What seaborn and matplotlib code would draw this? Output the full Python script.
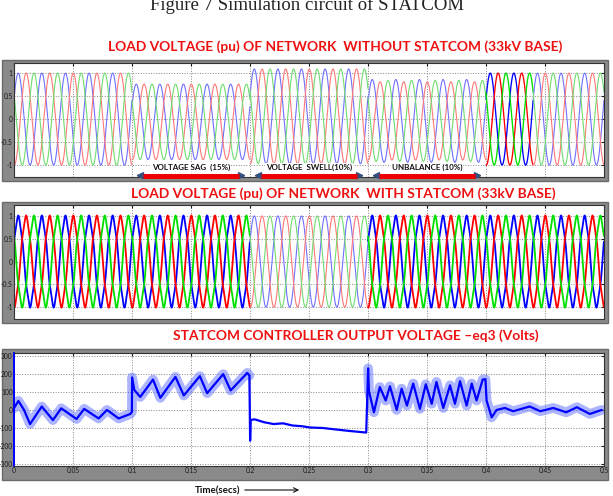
import matplotlib as mpl

mpl.use('Agg')
import numpy as np
import pandas as pd
import matplotlib.pyplot as plt
from matplotlib.patches import Rectangle
import seaborn as sns

# ---- data ----
freq = 50  # Hz
phases = ['a', 'b', 'c']
phase_deg = [25, -95, 145]
phase_bold = {'a': '#0000ff', 'b': '#ff0000', 'c': '#00e000'}
phase_pale = {'a': '#7070ff', 'b': '#ff7878', 'c': '#70dd70'}

# network without STATCOM: segment edges (s), peak of each phase (pu), dc shift
edges_without = [0.0, 0.1, 0.2, 0.3, 0.4, 0.44, 0.5]
amp_without = [[1.0, 1.0, 1.0], [0.82, 0.82, 0.82], [1.03, 1.03, 1.03],
               [0.90, 0.85, 0.88], [1.0, 1.0, 1.0], [1.0, 1.0, 1.0]]
shift_without = [0.0, -0.06, 0.06, -0.04, 0.0, 0.0]
bold_without = [False, False, False, False, True, False]

# network with STATCOM
edges_with = [0.0, 0.1, 0.2, 0.3, 0.4, 0.5]
amp_with = [[0.96, 0.96, 0.96], [0.96, 0.96, 0.96], [1.0, 1.0, 1.0],
            [0.96, 0.96, 0.96], [0.96, 0.96, 0.96]]
ripple_with = [0.05, 0.05, 0.0, 0.05, 0.05]
bold_with = [True, True, False, True, True]

# STATCOM controller output voltage eq3 (V)
ctrl_t = [0.0, 0.0037, 0.0085, 0.0136, 0.0235, 0.033, 0.040, 0.053, 0.0595,
          0.0717, 0.0788, 0.0887, 0.0986, 0.0999,
          0.1001, 0.102, 0.107, 0.1178, 0.124, 0.1368, 0.1439, 0.1575,
          0.1637, 0.1773, 0.1836, 0.1977, 0.1995,
          0.2001, 0.2006, 0.204, 0.212, 0.22, 0.228, 0.236, 0.244, 0.251,
          0.262, 0.27, 0.284, 0.2985,
          0.3001, 0.3008, 0.305, 0.310, 0.315, 0.3186, 0.3243, 0.3285, 0.333,
          0.3383, 0.344, 0.349, 0.354, 0.358, 0.3638, 0.3695, 0.3737, 0.378,
          0.3836, 0.3879, 0.392, 0.3972, 0.3995,
          0.4005, 0.4048, 0.409, 0.416, 0.423, 0.437, 0.446, 0.457, 0.468,
          0.477, 0.488, 0.498]
ctrl_v = [10, 50, 0, -78, 19, -56, 9, -50, 6,
          -47, 0, -47, -22, -10,
          180, 110, 72, 168, 67, 183, 80, 187,
          93, 198, 108, 205, 190,
          -170, -55, -52, -68, -78, -74, -86, -90, -97,
          -100, -106, -116, -125,
          230, 105, -13, 127, 52, 131, 0, 118, 24,
          146, 6, 142, 34, 155, 11, 136, 34, 159,
          24, 146, 52, 168, 170,
          52, -41, 0, 11, -7, 19, -7, 11, -13,
          15, -22, 0]

events = ['VOLTAGE SAG  (15%)', 'VOLTAGE  SWELL(10%)', 'UNBALANCE (10%)']
event_span = [(0.1, 0.2), (0.2, 0.3), (0.3, 0.4)]

titles = ['LOAD VOLTAGE (pu) OF NETWORK  WITHOUT STATCOM (33kV BASE)',
          'LOAD VOLTAGE (pu) OF NETWORK  WITH STATCOM (33kV BASE)',
          'STATCOM CONTROLLER OUTPUT VOLTAGE \u2013eq3 (Volts)']

W, H = 613, 496


def wave_frame(edges, amps, shifts, ripples):
    rows = []
    for k in range(len(edges) - 1):
        t = np.arange(edges[k], edges[k + 1], 5e-5)
        for p, ph, a in zip(phases, phase_deg, amps[k]):
            w = 2 * np.pi * freq * t + np.radians(ph)
            v = a * np.sin(w) + shifts[k] + ripples[k] * np.sin(5 * w)
            rows.append(pd.DataFrame({'t': t, 'v': v, 'phase': p, 'seg': k}))
    return pd.concat(rows, ignore_index=True)


def ax_box(x0, y0, x1, y1):
    return [x0 / W, 1 - y1 / H, (x1 - x0) / W, (y1 - y0) / H]


def gray_frame(fig, x0, y0, x1, y1):
    fig.patches.append(Rectangle((x0 / W, 1 - y1 / H), (x1 - x0) / W,
                                 (y1 - y0) / H, transform=fig.transFigure,
                                 facecolor='#8a8a8a', edgecolor='#6a6a6a',
                                 lw=1, zorder=-5))


def style_axes(ax, ylim, yticks, ylabels, xlabels):
    ax.set_xlim(0, 0.5)
    ax.set_ylim(*ylim)
    ax.set_xticks(np.arange(0, 0.501, 0.05))
    ax.set_yticks(yticks)
    ax.set_yticklabels(ylabels)
    if xlabels:
        ax.set_xticklabels(['0', '0.05', '0.1', '0.15', '0.2', '0.25', '0.3',
                            '0.35', '0.4', '0.45', '0.5'])
    else:
        ax.set_xticklabels([])
    ax.tick_params(direction='in', length=2, labelsize=4.8, pad=1,
                   top=True, right=True, colors='#1a1a1a')
    ax.grid(True, ls=':', color='#888888', lw=0.7)
    ax.set_xlabel('')
    ax.set_ylabel('')
    ax.set_facecolor('white')
    ax.set_zorder(2)
    for s in ax.spines.values():
        s.set_color('#333333')
        s.set_linewidth(0.8)


sns.set_style('white')
plt.rcParams['font.family'] = ['Lato', 'DejaVu Sans']

fig = plt.figure(figsize=(W / 100, H / 100), dpi=100)
fig.patch.set_facecolor('white')

fig.text(0.5, 1 - 10 / H, 'Figure 7 Simulation circuit of STATCOM',
         ha='center', va='baseline', fontsize=13.5,
         family=['Liberation Serif', 'DejaVu Serif'], color='#222222')

gray_frame(fig, 2, 60, 608, 181)
gray_frame(fig, 2, 202, 608, 323)
gray_frame(fig, 2, 349, 608, 480)

ax1 = fig.add_axes(ax_box(14, 63, 604, 177))
ax2 = fig.add_axes(ax_box(14, 205, 604, 319))
ax3 = fig.add_axes(ax_box(14, 353, 604, 466))

ttl = dict(ha='center', va='center', fontsize=9.9, fontweight='bold',
           color='#ee1111')
fig.text(335 / W, 1 - 47 / H, titles[0], **ttl)
fig.text(343 / W, 1 - 194 / H, titles[1], **ttl)
fig.text(356 / W, 1 - 336 / H, titles[2], **ttl)

# panel 1 and 2 : three phase voltages
df1 = wave_frame(edges_without, amp_without, shift_without,
                 [0.0] * len(shift_without))
df2 = wave_frame(edges_with, amp_with, [0.0] * len(ripple_with), ripple_with)

for ax, df, bold, bw in [(ax1, df1, bold_without, 0.95),
                         (ax2, df2, bold_with, 1.3)]:
    for k, b in enumerate(bold):
        sns.lineplot(data=df[df['seg'] == k], x='t', y='v', hue='phase',
                     palette=phase_bold if b else phase_pale,
                     lw=bw if b else 0.8, estimator=None, sort=False,
                     legend=False, ax=ax)

yl = ['1', '0.5', '0', '-0.5', '-1']
style_axes(ax1, (-1.26, 1.22), [1, 0.5, 0, -0.5, -1], yl, False)
style_axes(ax2, (-1.26, 1.24), [1, 0.5, 0, -0.5, -1], yl, False)

# event arrows on panel 1
for name, (a, b) in zip(events, event_span):
    ax1.annotate('', xy=(a + 0.001, -1.23), xytext=(b - 0.001, -1.23),
                 arrowprops=dict(arrowstyle='<|-|>', color='#34507e',
                                 lw=1.2, mutation_scale=10),
                 annotation_clip=False)
    ax1.plot([a + 0.009, b - 0.009], [-1.23, -1.23], color='#ee0000',
             lw=3.6, solid_capstyle='butt', clip_on=False, zorder=5)
    ax1.text((a + b) / 2, -1.06, name, ha='center', va='center',
             fontsize=5.8, fontweight='bold', color='#111111', zorder=6,
             bbox=dict(facecolor='white', edgecolor='none', pad=0.6))

# panel 3 : controller output
ctrl = pd.DataFrame({'t': ctrl_t, 'v': ctrl_v})
noisy = ctrl.copy()
noisy.loc[(noisy['t'] > 0.2) & (noisy['t'] < 0.3), 'v'] = np.nan
ax3.plot(noisy['t'], noisy['v'], color='#5c6cff', lw=7, alpha=0.5)
sns.lineplot(data=ctrl, x='t', y='v', color='#0000ff', lw=1.6,
             estimator=None, sort=False, ax=ax3)
style_axes(ax3, (-310, 315), [300, 200, 100, 0, -100, -200, -300],
           ['300', '200', '100', '0', '-100', '-200', '-300'], True)
ax3.spines['left'].set_color('#0000ff')
ax3.spines['left'].set_linewidth(1.4)

fig.text(195 / W, 1 - 491 / H, 'Time(secs)', ha='left', va='center',
         fontsize=7, fontweight='bold', color='#111111')
fig.patches.append(mpl.patches.FancyArrowPatch(
    (242 / W, 1 - 490 / H), (302 / W, 1 - 490 / H),
    transform=fig.transFigure, arrowstyle='->', mutation_scale=8,
    color='#111111', lw=0.8))

fig.savefig('out.png', dpi=100)
